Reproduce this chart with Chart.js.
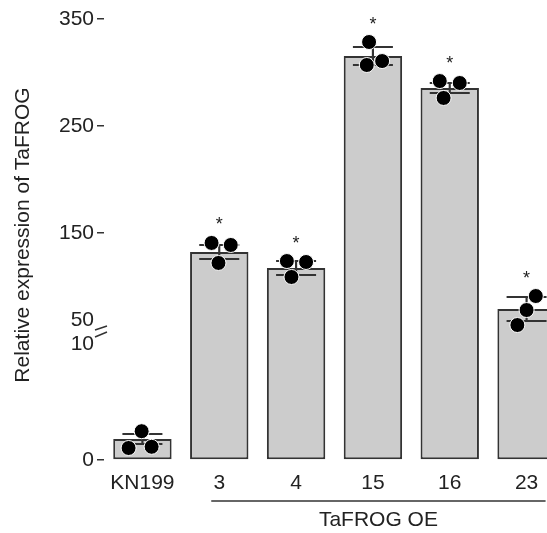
<!DOCTYPE html>
<html><head><meta charset="utf-8">
<script src="https://cdn.jsdelivr.net/npm/chart.js@4/dist/chart.umd.min.js"></script>
<style>
html,body{margin:0;padding:0;overflow:hidden;background:#fff;width:547px;height:533px}
#wrap{width:565px;height:533px}
</style></head>
<body><div id="wrap"><canvas id="c" width="565" height="533"></canvas></div>
<script>
// ---- data ----
const categories = ['KN199', '3', '4', '15', '16', '23'];
const groupLabel = 'TaFROG OE';
const groupMembers = ['3', '4', '15', '16', '23'];
const means = [1.75, 132.2, 117.3, 315.4, 285.5, 79];
const errors = [0.42, 6.5, 6.5, 8.5, 4.7, 11.2];
const replicates = [
  [1.0, 2.4, 1.1],
  [140.7, 138.8, 122],
  [123.8, 122.9, 108.9],
  [328.5, 307, 310.7],
  [292, 290.2, 276.2],
  [91.1, 78, 64]
];
const jitter = [
  [-0.18, -0.01, 0.12],
  [-0.10, 0.15, -0.01],
  [-0.12, 0.13, -0.06],
  [-0.05, -0.08, 0.12],
  [-0.13, 0.13, -0.08],
  [0.12, 0, -0.12]
];
const significance = ['', '*', '*', '*', '*', '*'];
const yTickValues = [0, 150, 250, 350];
const yBreak = [10, 50];
const yTitle = 'Relative expression of TaFROG';

// ---- broken-axis transform (value -> display units on the linear scale) ----
const LOW_UNITS = 12;
const HIGH_UNITS = 1.07;
const toD = v => v <= yBreak[0] ? v * LOW_UNITS : yBreak[0] * LOW_UNITS + (v - yBreak[1]) * HIGH_UNITS;

const FONT = '"Liberation Sans", Arial, Helvetica, sans-serif';
const TXT = '#222';
const DOT_R = 7.5;

const dots = [];
replicates.forEach((arr, i) => arr.forEach((v, k) => dots.push({x: i + jitter[i][k], y: toD(v)})));
const caps = [];
means.forEach((m, i) => { caps.push({x: i, y: toD(m + errors[i])}); caps.push({x: i, y: toD(m - errors[i])}); });

const annot = {
  id: 'annot',
  afterDraw(chart) {
    const ctx = chart.ctx, ys = chart.scales.y, xs = chart.scales.x;
    ctx.save();
    // break labels & marks
    const yb = ys.getPixelForValue(toD(yBreak[0]));
    ctx.fillStyle = TXT;
    ctx.font = '21px ' + FONT;
    ctx.textAlign = 'right';
    ctx.textBaseline = 'middle';
    ctx.fillText(String(yBreak[1]), ys.right - 10, yb - 20);
    ctx.fillText(String(yBreak[0]), ys.right - 10, yb + 4);
    ctx.strokeStyle = '#333';
    ctx.lineWidth = 1.5;
    const L = ys.right;
    ctx.beginPath();
    ctx.moveTo(L - 9, yb - 10); ctx.lineTo(L + 3, yb - 14);
    ctx.moveTo(L - 9, yb - 3); ctx.lineTo(L + 3, yb - 8);
    ctx.stroke();
    // significance stars
    ctx.font = '18px ' + FONT;
    ctx.textAlign = 'center';
    ctx.textBaseline = 'alphabetic';
    significance.forEach((s, i) => {
      if (!s) return;
      const top = ys.getPixelForValue(toD(Math.max(...replicates[i])));
      ctx.fillText(s, xs.getPixelForValue(i), top - DOT_R - 5);
    });
    // group bracket
    const i1 = categories.indexOf(groupMembers[0]);
    const i2 = categories.indexOf(groupMembers[groupMembers.length - 1]);
    const x1 = xs.getPixelForValue(i1) - 8, x2 = xs.getPixelForValue(i2) + 19;
    const yl = xs.top + 41;
    ctx.strokeStyle = '#333';
    ctx.lineWidth = 1.5;
    ctx.beginPath(); ctx.moveTo(x1, yl); ctx.lineTo(x2, yl); ctx.stroke();
    ctx.font = '21px ' + FONT;
    ctx.textBaseline = 'middle';
    ctx.fillText(groupLabel, (x1 + x2) / 2, yl + 19);
    ctx.restore();
  }
};

new Chart(document.getElementById('c'), {
  type: 'bar',
  data: {
    labels: categories,
    datasets: [
      {
        type: 'bar', data: means.map(toD), backgroundColor: '#cccccc', borderColor: '#333',
        borderWidth: 2, borderSkipped: false, barPercentage: 0.76, categoryPercentage: 1,
        grouped: false, order: 4
      },
      {
        type: 'bar', data: means.map((m, i) => [toD(m - errors[i]), toD(m + errors[i])]),
        backgroundColor: '#333', barThickness: 1.5, grouped: false, order: 3
      },
      {
        type: 'scatter', xAxisID: 'xj', data: caps, pointStyle: 'line', pointRadius: 20,
        pointBorderColor: '#333', pointBorderWidth: 2, order: 2
      },
      {
        type: 'scatter', xAxisID: 'xj', data: dots, pointRadius: DOT_R,
        pointBackgroundColor: '#000', pointBorderColor: '#fff', pointBorderWidth: 1, order: 1
      }
    ]
  },
  options: {
    responsive: false,
    animation: false,
    layout: {autoPadding: false, padding: {top: 10, left: 0, right: 0, bottom: 0}},
    plugins: {legend: {display: false}, tooltip: {enabled: false}},
    scales: {
      x: {
        type: 'category', offset: true,
        grid: {display: false, drawTicks: false},
        border: {display: false},
        ticks: {font: {size: 21, family: FONT}, color: TXT, padding: 11, maxRotation: 0, autoSkip: false},
        afterFit: s => { s.height = 73; s.paddingLeft = 0; s.paddingRight = 0; }
      },
      xj: {type: 'linear', min: -0.5, max: 5.5, display: false, offset: false, grid: {offset: false}},
      y: {
        type: 'linear', position: 'left', min: 0, max: 450,
        grid: {drawOnChartArea: false, drawTicks: true, tickLength: 7, color: '#333', lineWidth: 1.5},
        border: {display: false},
        afterBuildTicks: s => { s.ticks = yTickValues.map(v => ({value: toD(v)})); },
        ticks: {
          font: {size: 21, family: FONT}, color: TXT, padding: 3,
          callback: (val, idx) => String(yTickValues[idx])
        },
        title: {display: true, text: yTitle, font: {size: 21, family: FONT}, color: TXT, padding: {top: 11, bottom: 0}},
        afterFit: s => { s.width = 104; s.paddingTop = 0; s.paddingBottom = 0; }
      }
    }
  },
  plugins: [annot]
});
</script>
</body></html>
